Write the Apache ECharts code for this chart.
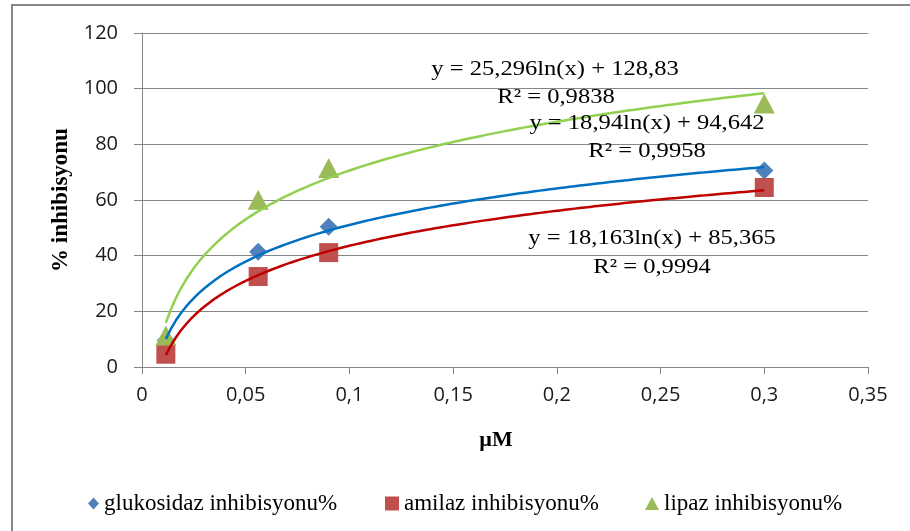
<!DOCTYPE html>
<html>
<head>
<meta charset="utf-8">
<script src="https://cdn.jsdelivr.net/npm/echarts@6/dist/echarts.min.js"></script>
<style>
  html, body { margin: 0; padding: 0; background: #ffffff; }
  #chart { width: 910px; height: 531px; }
</style>
</head>
<body>
<div id="chart"></div>
<script>
// Concentrations (µM) and measured inhibition (%)
const concentrations = [0.0115, 0.056, 0.09, 0.3];
const glukosidaz = [9.6, 41.4, 50.4, 70.6];
const amilaz = [4.6, 32.5, 41.1, 64.5];
const lipaz = [11.3, 60.1, 71.5, 94.7];

const seriesNames = ['glukosidaz inhibisyonu%', 'amilaz inhibisyonu%', 'lipaz inhibisyonu%'];

// Logarithmic trendlines: y = a·ln(x) + b
const trendA = [18.94, 18.163, 25.296];
const trendB = [94.642, 85.365, 128.83];
const trendR2 = ['0,9958', '0,9994', '0,9838'];

const markerColors = ['#4F81BD', '#C0504D', '#9BBB59'];
const lineColors = ['#0070C0', '#C00000', '#92D050'];
const markerSymbols = ['diamond', 'rect', 'triangle'];
const markerSizes = [[18, 18], [19, 19], [21, 20]];
const legendIconSizes = [[11, 12], [14, 14], [14, 13]];

const values = [glukosidaz, amilaz, lipaz];

const comma = v => String(v).replace('.', ',');

function trendCurve(a, b) {
  const x0 = concentrations[0];
  const x1 = concentrations[concentrations.length - 1];
  const steps = 120;
  const pts = [];
  for (let i = 0; i <= steps; i++) {
    const x = x0 + (x1 - x0) * i / steps;
    pts.push([x, a * Math.log(x) + b]);
  }
  return pts;
}

const chart = echarts.init(document.getElementById('chart'), null, { renderer: 'canvas' });

const series = [];
values.forEach((vals, i) => {
  series.push({
    name: seriesNames[i],
    type: 'scatter',
    symbol: markerSymbols[i],
    symbolSize: markerSizes[i],
    itemStyle: { color: markerColors[i], opacity: 1 },
    data: concentrations.map((x, k) => [x, vals[k]]),
    z: 2,
    silent: true
  });
});
values.forEach((vals, i) => {
  series.push({
    name: seriesNames[i] + ' trend',
    type: 'line',
    showSymbol: false,
    smooth: false,
    lineStyle: { color: lineColors[i], width: 2.5 },
    data: trendCurve(trendA[i], trendB[i]),
    z: 3,
    silent: true
  });
});

// Trendline equation labels (centre positions)
const eqPos = [
  { eq: [647, 123], r2: [647, 151] },
  { eq: [652, 238], r2: [652, 267] },
  { eq: [555, 69], r2: [556, 97] }
];
const eqFont = '21px "Liberation Serif", "Times New Roman", serif';
const graphics = [{
  type: 'rect',
  shape: { x: 12, y: 5, width: 940, height: 560 },
  style: { fill: null, stroke: '#878787', lineWidth: 2 },
  silent: true,
  z: 0
}];
[2, 0, 1].forEach(i => {
  graphics.push({
    type: 'text',
    x: eqPos[i].eq[0], y: eqPos[i].eq[1],
    scaleX: 1.17,
    style: {
      text: 'y = ' + comma(trendA[i]) + 'ln(x) + ' + comma(trendB[i]),
      font: eqFont, fill: '#000', align: 'center', verticalAlign: 'middle'
    },
    z: 10
  });
  graphics.push({
    type: 'text',
    x: eqPos[i].r2[0], y: eqPos[i].r2[1],
    scaleX: 1.17,
    style: {
      text: 'R² = ' + trendR2[i],
      font: eqFont, fill: '#000', align: 'center', verticalAlign: 'middle'
    },
    z: 10
  });
});

const legendLefts = [83, 380, 640];
const legends = seriesNames.map((name, i) => ({
  data: [{ name: name, icon: markerSymbols[i] }],
  left: legendLefts[i],
  top: 487,
  itemWidth: legendIconSizes[i][0],
  itemHeight: legendIconSizes[i][1],
  itemGap: 0,
  selectedMode: false,
  textStyle: {
    fontFamily: '"Liberation Serif", "Times New Roman", serif',
    fontSize: 23,
    color: '#000'
  }
}));

chart.setOption({
  animation: false,
  backgroundColor: '#ffffff',
  grid: { left: 142, right: 42, top: 33, bottom: 164, containLabel: false },
  legend: legends,
  xAxis: {
    type: 'value',
    min: 0, max: 0.35, interval: 0.05,
    name: 'µM',
    nameLocation: 'middle',
    nameGap: 62,
    nameTextStyle: {
      fontFamily: '"Liberation Serif", "Times New Roman", serif',
      fontWeight: 'bold', fontSize: 22, color: '#000',
      padding: [0, 18, 0, 0]
    },
    axisLine: { show: true, onZero: false, lineStyle: { color: '#868686', width: 1 } },
    axisTick: { show: true, inside: false, length: 7, lineStyle: { color: '#868686' } },
    splitLine: { show: false },
    axisLabel: {
      margin: 18,
      fontFamily: '"Open Sans", sans-serif',
      fontSize: 20, color: '#1a1a1a',
      formatter: v => comma(+v.toFixed(2))
    }
  },
  yAxis: {
    type: 'value',
    min: 0, max: 120, interval: 20,
    name: '% inhibisyonu',
    nameLocation: 'middle',
    nameRotate: 90,
    nameGap: 66,
    nameTextStyle: {
      fontFamily: '"Liberation Serif", "Times New Roman", serif',
      fontWeight: 'bold', fontSize: 23, color: '#000'
    },
    axisLine: { show: true, lineStyle: { color: '#868686', width: 1 } },
    axisTick: { show: true, inside: false, length: 8, lineStyle: { color: '#868686' } },
    splitLine: { show: true, lineStyle: { color: '#868686', width: 1 } },
    axisLabel: {
      margin: 24,
      fontFamily: '"Open Sans", sans-serif',
      fontSize: 20, color: '#1a1a1a'
    }
  },
  graphic: graphics,
  series: series
});
</script>
</body>
</html>
